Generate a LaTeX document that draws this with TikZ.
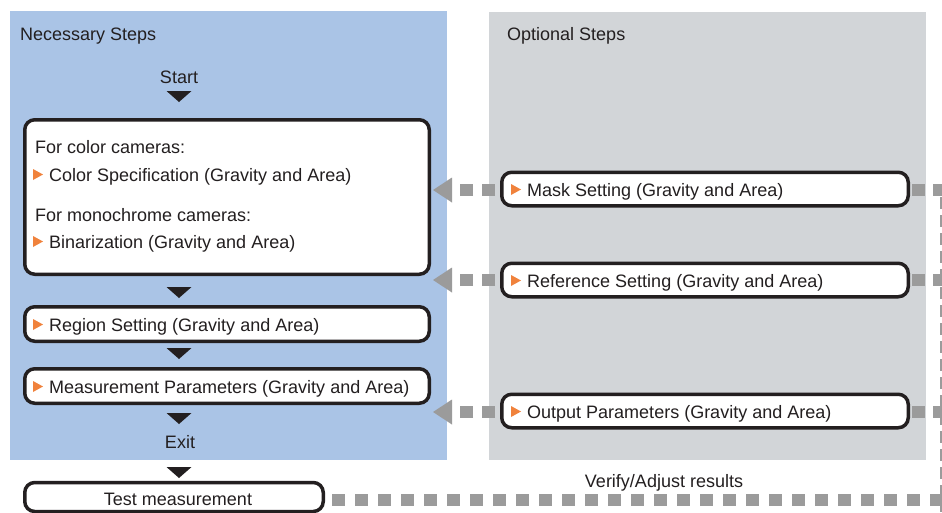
\documentclass[tikz,border=0pt]{standalone}
\usepackage{fontspec}
\setmainfont{Liberation Sans}
\usetikzlibrary{arrows.meta,calc}
\definecolor{panelblue}{HTML}{AAC4E6}
\definecolor{panelgrey}{HTML}{D2D5D8}
\definecolor{conngrey}{HTML}{9B9B9B}
\definecolor{stepor}{HTML}{F0823C}
\definecolor{txt}{HTML}{231F20}
\begin{document}
\begin{tikzpicture}[x=1pt,y=-1pt,
  every node/.style={font=\fontsize{18}{21}\selectfont, text=txt, inner sep=0pt},
  panel/.style={anchor=north west, inner sep=0pt},
  stepbox/.style={draw=txt, line width=3.5pt, rounded corners=10pt, fill=white, inner sep=0pt},
  lbl/.style={anchor=base west},
  ctr/.style={anchor=base},
  gline/.style={draw=conngrey, line width=12pt, dash pattern=on 13pt off 9pt},
  ghead/.style={-{Triangle[length=19pt,width=25pt,line width=0pt]}},
  gthin/.style={draw=conngrey, line width=1.5pt, dash pattern=on 12pt off 6pt},
]
\clip (0,0) rectangle (942,512);
\fill[white] (0,0) rectangle (942,512);

% panels
\node[panel, fill=panelblue, minimum width=437pt, minimum height=449pt] (nec) at (10,11) {};
\node[panel, fill=panelgrey, minimum width=437pt, minimum height=448pt] (opt) at (489,12) {};
\node[lbl] (necT) at (20,40) {Necessary Steps};
\node[lbl] (optT) at (507,40) {Optional Steps};

% flow boxes
\node[stepbox, minimum width=404.5pt, minimum height=154.5pt] (cam) at (227,197) {};
\node[stepbox, minimum width=404.5pt, minimum height=34.5pt] (reg) at (227,324) {};
\node[stepbox, minimum width=404.5pt, minimum height=34.5pt] (meas) at (227,386) {};
\node[stepbox, minimum width=298.5pt, minimum height=29pt] (test) at (174,497) {};
\node[stepbox, minimum width=406.5pt, minimum height=33.5pt] (mask) at (705,189) {};
\node[stepbox, minimum width=406.5pt, minimum height=33.5pt] (ref) at (705,280) {};
\node[stepbox, minimum width=406.5pt, minimum height=33.5pt] (outp) at (705,411) {};

% texts
\node[ctr] (start) at (179,83) {Start};
\node[ctr] (exit) at (180,448) {Exit};
\node[lbl] (colT) at (35,153) {For color cameras:};
\node[lbl] (colS) at (49,181) {Color Specification (Gravity and Area)};
\node[lbl] (monT) at (35,221) {For monochrome cameras:};
\node[lbl] (monS) at (49,248) {Binarization (Gravity and Area)};
\node[lbl] (regT) at (49,331) {Region Setting (Gravity and Area)};
\node[lbl] (measT) at (49,393) {Measurement Parameters (Gravity and Area)};
\node[ctr] (testT) at (178,505) {Test measurement};
\node[lbl] (maskT) at (527,196) {Mask Setting (Gravity and Area)};
\node[lbl] (refT) at (527,287) {Reference Setting (Gravity and Area)};
\node[lbl] (outT) at (527,418) {Output Parameters (Gravity and Area)};
\node[ctr] (verT) at (664,487) {Verify/Adjust results};

% orange markers
\foreach \xx/\yy in {33/174.5, 33/241.5, 33/324.5, 33/386.5, 511/189.5, 511/280.5, 511/411.5}
  \fill[stepor] (\xx,\yy-5.5) -- (\xx+10,\yy) -- (\xx,\yy+5.5) -- cycle;

% black flow triangles
\foreach \yy in {91, 287, 348, 413, 467}
  \fill[txt] (166.5,\yy) -- (191.5,\yy) -- (179,\yy+11) -- cycle;

% grey dashed arrows to the necessary steps
\draw[gline, ghead] ($(mask.west)+(-5,1)$) -- ($(mask.west)+(-67,1)$);
\draw[gline, ghead] ($(ref.west)+(-5,0)$) -- ($(ref.west)+(-67,0)$);
\draw[gline, ghead] ($(outp.west)+(-5,1)$) -- ($(outp.west)+(-67,1)$);

% right stubs
\draw[gline, dash pattern=on 13pt off 8pt] ($(mask.east)+(2,1)$) -- ($(mask.east)+(40,1)$);
\draw[gline, dash pattern=on 13pt off 8pt] ($(ref.east)+(2,0)$) -- ($(ref.east)+(40,0)$);
\draw[gline, dash pattern=on 13pt off 8pt] ($(outp.east)+(2,1)$) -- ($(outp.east)+(40,1)$);
\coordinate (vtop) at (941.2,197);
\coordinate (vbot) at (941.2,512);
\draw[gthin] (vtop) -- (vbot);

% bottom verify line
\coordinate (vend) at (950,500);
\draw[gline, dash pattern=on 13pt off 10pt] ($(test.east)+(7,3)$) -- (vend);
\end{tikzpicture}
\end{document}
